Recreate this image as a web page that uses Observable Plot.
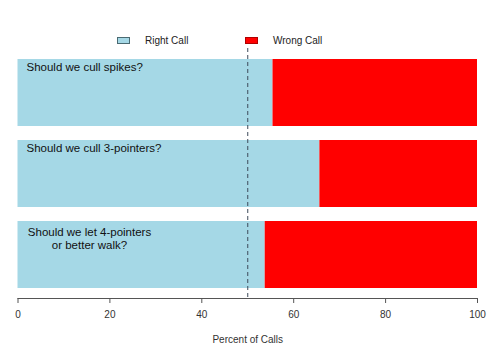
<!DOCTYPE html>
<html>
<head>
<meta charset="utf-8">
<script src="https://cdn.jsdelivr.net/npm/d3@7"></script>
<script src="https://cdn.jsdelivr.net/npm/@observablehq/plot@0.6"></script>
<style>
  html, body { margin: 0; padding: 0; background: #fff; }
  body { width: 500px; height: 355px; overflow: hidden; font-family: "Liberation Sans", Arial, Helvetica, sans-serif; }
  #legend { position: relative; height: 44px; width: 500px; font-size: 10px; color: #222; }
  .sw { position: absolute; top: 37px; width: 13px; height: 7px; box-sizing: border-box; }
  .lab { position: absolute; top: 35px; line-height: 11px; }
</style>
</head>
<body>
<div id="legend"></div>
<div id="chart"></div>
<script>
const questions = ["Should we cull spikes?", "Should we cull 3-pointers?", "Should we let 4-pointers\nor better walk?"];
const rightCall = [55.5, 65.7, 53.8];
const wrongCall = [44.5, 34.3, 46.2];
const series = ["Right Call", "Wrong Call"];
const colors = ["#A5D8E6", "#FF0000"];
const xTicks = [0, 20, 40, 60, 80, 100];
const threshold = [50];

// legend
const legend = document.getElementById("legend");
const legendItems = [
  {name: series[0], color: colors[0], border: "#4a6a72", sx: 117, tx: 145},
  {name: series[1], color: colors[1], border: "#b00000", sx: 245, tx: 273}
];
for (const it of legendItems) {
  const s = document.createElement("div");
  s.className = "sw";
  s.style.left = it.sx + "px";
  s.style.background = it.color;
  s.style.border = "1px solid " + it.border;
  legend.appendChild(s);
  const t = document.createElement("div");
  t.className = "lab";
  t.style.left = it.tx + "px";
  t.textContent = it.name;
  legend.appendChild(t);
}

const rows = [];
questions.forEach((q, i) => {
  rows.push({question: q, type: series[0], value: rightCall[i]});
  rows.push({question: q, type: series[1], value: wrongCall[i]});
});
const labels = questions.map(q => ({question: q, multi: q.includes("\n")}));

const chart = Plot.plot({
  width: 500,
  height: 311,
  marginLeft: 17.5,
  marginRight: 23,
  marginTop: 4,
  marginBottom: 57,
  style: {fontFamily: '"Liberation Sans", Arial, Helvetica, sans-serif', fontSize: "10px", color: "#333", background: "#fff"},
  x: {domain: [0, 100], ticks: xTicks, label: null},
  y: {domain: questions, paddingInner: 0.177, paddingOuter: 0.113, axis: null},
  color: {domain: series, range: colors},
  marks: [
    Plot.barX(rows, {x: "value", y: "question", fill: "type", order: series}),
    Plot.ruleX(threshold, {stroke: "#3d4a5a", strokeDasharray: "4,3", strokeWidth: 1}),
    Plot.text(labels.filter(d => !d.multi), {x: 0, y: "question", text: "question", textAnchor: "start", dx: 8.5, dy: -25.5, fontSize: 11.5, fill: "#111"}),
    Plot.text(labels.filter(d => d.multi), {x: 0, y: "question", text: "question", textAnchor: "middle", dx: 71.5, dy: -28.5, lineAnchor: "top", lineHeight: 1.16, fontSize: 11.5, fill: "#111"}),
    Plot.frame({anchor: "bottom", stroke: "#555"}),
    Plot.axisX({ticks: xTicks, tickSize: 5, tickPadding: 7, stroke: "#555", fill: "#333", fontSize: 10, label: null}),
    Plot.axisX({ticks: [], label: "Percent of Calls", labelAnchor: "center", labelOffset: 44, labelArrow: "none", fontSize: 10})
  ]
});
document.getElementById("chart").appendChild(chart);
</script>
</body>
</html>
